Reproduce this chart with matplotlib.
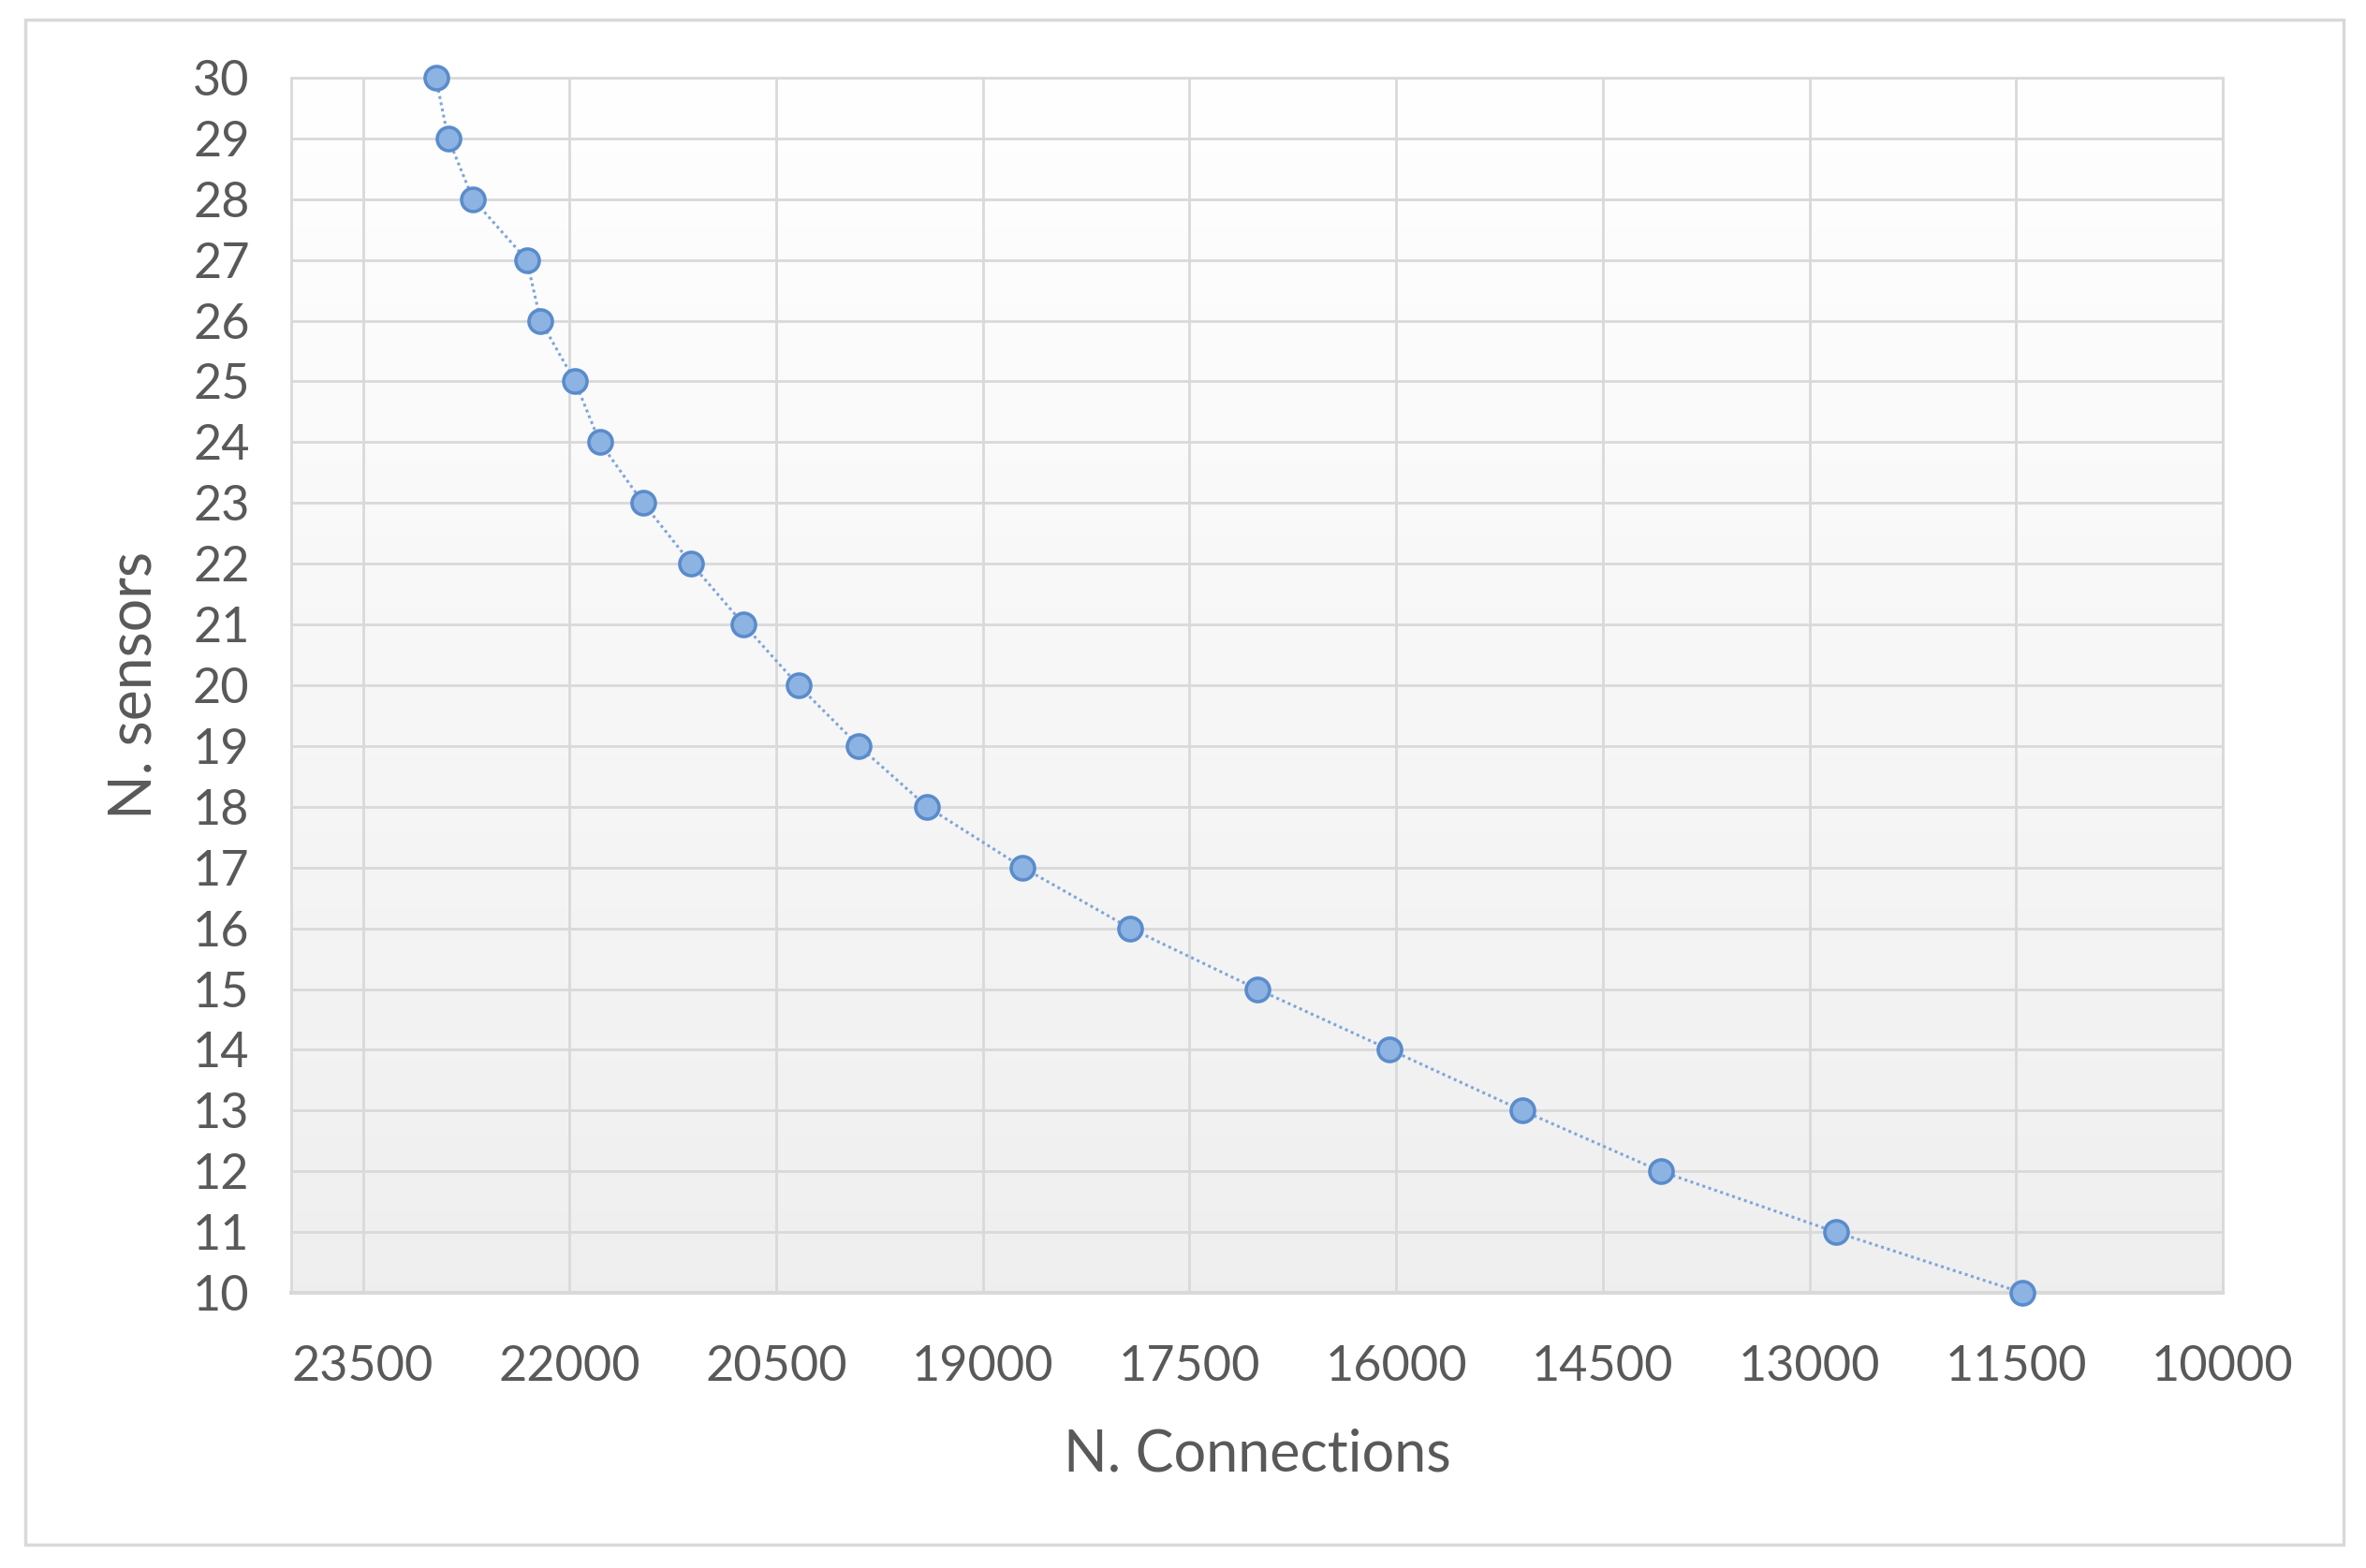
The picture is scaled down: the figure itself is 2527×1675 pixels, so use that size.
import numpy as np
import matplotlib
matplotlib.use("Agg")
import matplotlib.pyplot as plt
from matplotlib.patches import Rectangle

# Data
n_sensors = [30, 29, 28, 27, 26, 25, 24, 23, 22, 21, 20,
             19, 18, 17, 16, 15, 14, 13, 12, 11, 10]
n_connections = [22970, 22880, 22700, 22310, 22210, 21960, 21780, 21465, 21115, 20735, 20340,
                 19900, 19405, 18710, 17930, 17010, 16045, 15085, 14080, 12810, 11455]
x_ticks = [23500, 22000, 20500, 19000, 17500, 16000, 14500, 13000, 11500, 10000]
y_ticks = list(range(10, 31))

plt.rcParams['font.family'] = ['Lato', 'DejaVu Sans']

W, H = 2527, 1675
fig = plt.figure(figsize=(W / 100, H / 100), dpi=100)
fig.patch.set_facecolor('white')

# outer chart border
fig.patches.append(Rectangle((27 / W, 1 - 1650 / H), (2503 - 27) / W, (1650 - 21) / H,
                             transform=fig.transFigure, fill=False,
                             edgecolor='#d9d9d9', linewidth=2.5, zorder=0))

ax = fig.add_axes([311 / W, 1 - 1381 / H, (2374 - 311) / W, (1381 - 83) / H])

# gradient background (white top -> light gray bottom)
grad = np.linspace(1.0, 0.0, 256).reshape(-1, 1)
top = np.array([1.0, 1.0, 1.0])
bot = np.array([0.937, 0.937, 0.937])
img = top[None, None, :] * grad[:, :, None] + bot[None, None, :] * (1 - grad[:, :, None])
ax.imshow(img, extent=[0, 1, 0, 1], transform=ax.transAxes, aspect='auto', zorder=0)

ax.plot(n_connections, n_sensors, linestyle=(0, (1, 1.2)), color='#7fa6d8', linewidth=2.2,
        marker='o', markersize=18, markerfacecolor='#8db3e2', markeredgecolor='#5a8ccc',
        markeredgewidth=2.6, zorder=3, clip_on=False)

ax.set_xlim(24020, 10000)
ax.set_ylim(10, 30)
ax.set_xticks(x_ticks)
ax.set_yticks(y_ticks)
ax.set_xticklabels([str(v) for v in x_ticks])
ax.set_yticklabels([str(v) for v in y_ticks])

ax.grid(True, color='#d9d9d9', linewidth=2.0, zorder=1)
ax.set_axisbelow(True)
for s in ax.spines.values():
    s.set_color('#d9d9d9')
    s.set_linewidth(2.0)
ax.spines['bottom'].set_linewidth(3.0)

ax.tick_params(axis='both', length=0, colors='#595959', labelsize=37.5)
ax.tick_params(axis='x', pad=40)
ax.tick_params(axis='y', pad=32)

ax.set_xlabel('N. Connections', fontsize=44, color='#595959', labelpad=30)
ax.set_ylabel('N. sensors', fontsize=45, color='#595959', labelpad=24)

fig.savefig('out.png', dpi=100, facecolor='white')
